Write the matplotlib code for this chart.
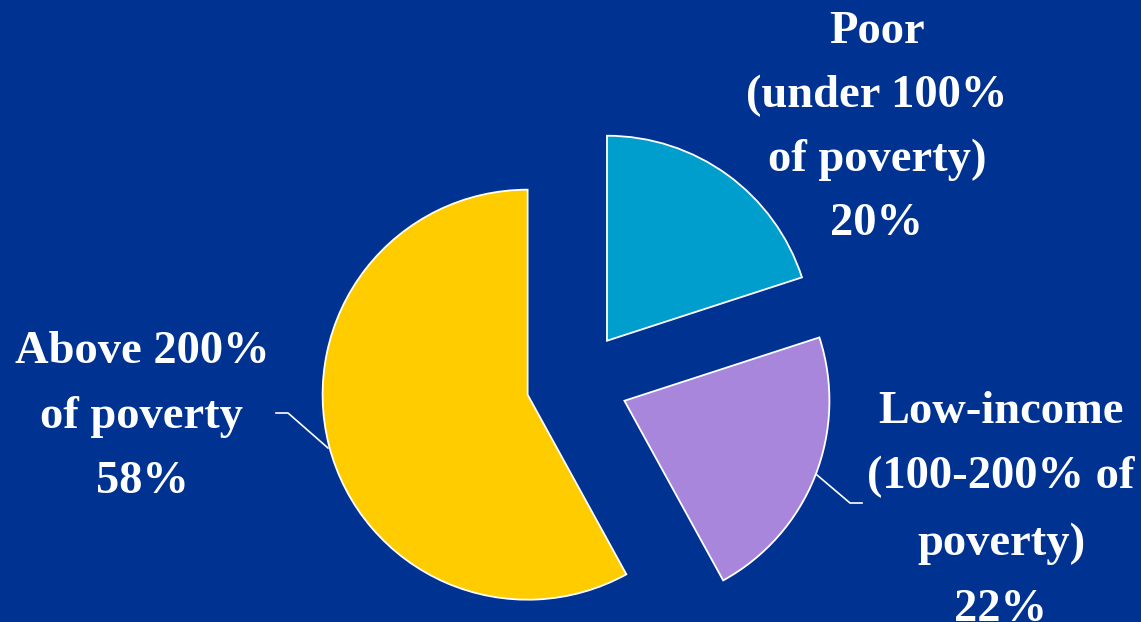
import matplotlib
matplotlib.use("Agg")
import matplotlib.pyplot as plt

# ---- data ----
categories = ["Poor (under 100% of poverty)",
              "Low-income (100-200% of poverty)",
              "Above 200% of poverty"]
shares = [20, 22, 58]
colors = ["#009ECC", "#A886DC", "#FFCC00"]
label_lines = [
    ["Poor", "(under 100%", "of poverty)", "20%"],
    ["Low-income", "(100-200% of", "poverty)", "22%"],
    ["Above 200%", "of poverty", "58%"],
]

W, H = 1141, 622
BG = "#003391"

fig = plt.figure(figsize=(W / 100, H / 100), dpi=100, facecolor=BG)
ax = fig.add_axes([0, 0, 1, 1])
ax.set_facecolor(BG)

R = 205
cx, cy = 577, H - 382
ax.pie(shares, colors=colors, startangle=90, counterclock=False,
       radius=R, center=(cx, cy), explode=[51, 51, 51], frame=True,
       wedgeprops=dict(edgecolor="white", linewidth=1.3))

ax.set_xlim(0, W)
ax.set_ylim(0, H)
ax.set_aspect("equal")
ax.axis("off")

font = dict(family=["Liberation Serif", "DejaVu Serif"], fontweight="bold",
            color="white", fontsize=33.5, ha="center", va="baseline")

# label positions (pixel coords: x centre, baselines from top)
label_pos = [
    (877, [43, 107, 171, 235]),
    (1001, [423, 488, 555, 621]),
    (142, [363, 428, 493]),
]
for lines, (xc, bases) in zip(label_lines, label_pos):
    for txt, b in zip(lines, bases):
        ax.text(xc, H - b, txt, **font)

# leader lines
ax.plot([276, 288, 328], [H - 413, H - 413, H - 448], color="white", lw=1.2)
ax.plot([817, 850, 862], [H - 475, H - 503, H - 503], color="white", lw=1.2)

fig.savefig("out.png", dpi=100, facecolor=BG)
